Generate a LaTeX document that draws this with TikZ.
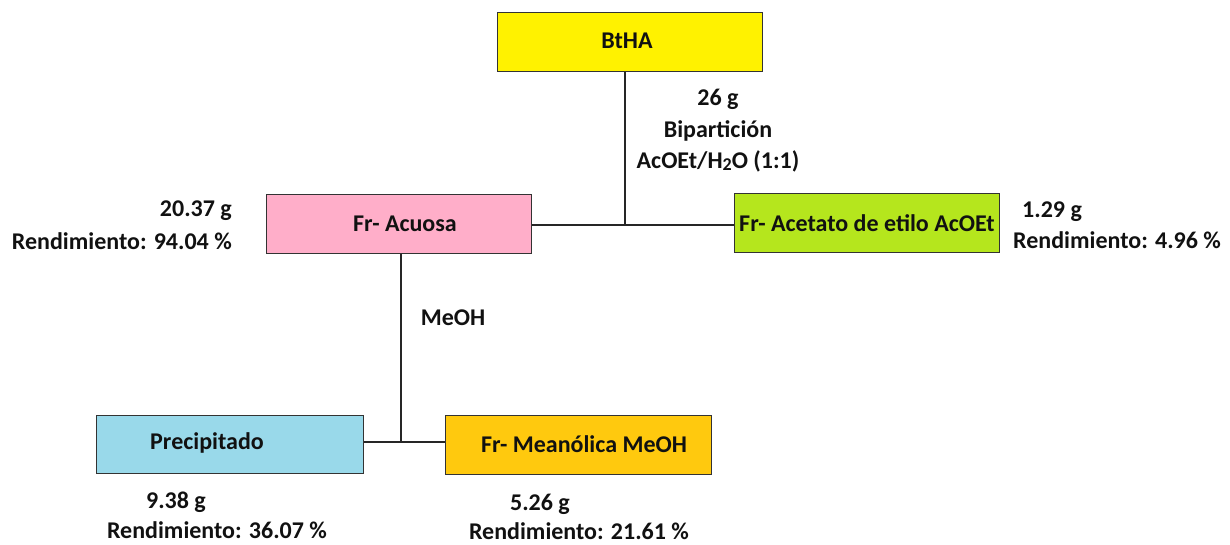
\documentclass[tikz,border=0pt]{standalone}
\usepackage{fontspec}
\setmainfont{Carlito}
\definecolor{cyel}{HTML}{FFF200}
\definecolor{cpink}{HTML}{FFAEC9}
\definecolor{clime}{HTML}{B5E61D}
\definecolor{cblue}{HTML}{99D9EA}
\definecolor{cgold}{HTML}{FFC90E}
\definecolor{ctext}{HTML}{111111}
\begin{document}
\begin{tikzpicture}[x=1pt,y=-1pt,
  boxst/.style={draw=black!80,line width=1.2pt,minimum width=265pt,minimum height=59pt,inner sep=0pt,anchor=north west},
  lbl/.style={font=\fontsize{24}{28}\selectfont\bfseries,text=ctext,inner sep=0pt},
  conn/.style={draw=black!85,line width=1.2pt}]
\useasboundingbox (0,0) rectangle (1230,544);
\node[boxst,fill=cyel] (bt) at (497,12) {};
\node[lbl] at (627,41) {BtHA};
\node[boxst,fill=cpink] (aq) at (266,194) {};
\node[lbl] at (405,224) {Fr- Acuosa};
\node[boxst,fill=clime] (ac) at (734,193) {};
\node[lbl] at (867,223) {Fr- Acetato de etilo AcOEt};
\node[boxst,fill=cblue,minimum width=267pt,minimum height=58pt] (pr) at (96,415) {};
\node[lbl] at (207,443) {Precipitado};
\node[boxst,fill=cgold,minimum width=266pt] (me) at (445,415) {};
\node[lbl] at (584,444) {Fr- Meanólica MeOH};
\coordinate (j1) at (625,225);
\coordinate (j2) at (401,442);
\draw[conn] (bt.south -| j1) -- (j1);
\draw[conn] (aq.east |- j1) -- (ac.west |- j1);
\draw[conn] (aq.south -| j2) -- (j2);
\draw[conn] (pr.east |- j2) -- (me.west |- j2);
\node[lbl] at (718,99) {26 g};
\node[lbl] at (718,131) {Bipartición};
\node[lbl] at (718,161) {AcOEt/H\raisebox{-0.1em}{\fontsize{18}{20}\selectfont 2}O (1:1)};
\node[lbl,anchor=east] at (232,211) {20.37 g};
\node[lbl,anchor=east] at (232,241) {Rendimiento: 94.04 \%};
\node[lbl,anchor=west] at (1022,212) {1.29 g};
\node[lbl,anchor=west] at (1013,240) {Rendimiento: 4.96 \%};
\node[lbl] at (453,318) {MeOH};
\node[lbl] at (176,502) {9.38 g};
\node[lbl] at (217,530) {Rendimiento: 36.07 \%};
\node[lbl] at (540,504) {5.26 g};
\node[lbl] at (579,531) {Rendimiento: 21.61 \%};
\end{tikzpicture}
\end{document}
